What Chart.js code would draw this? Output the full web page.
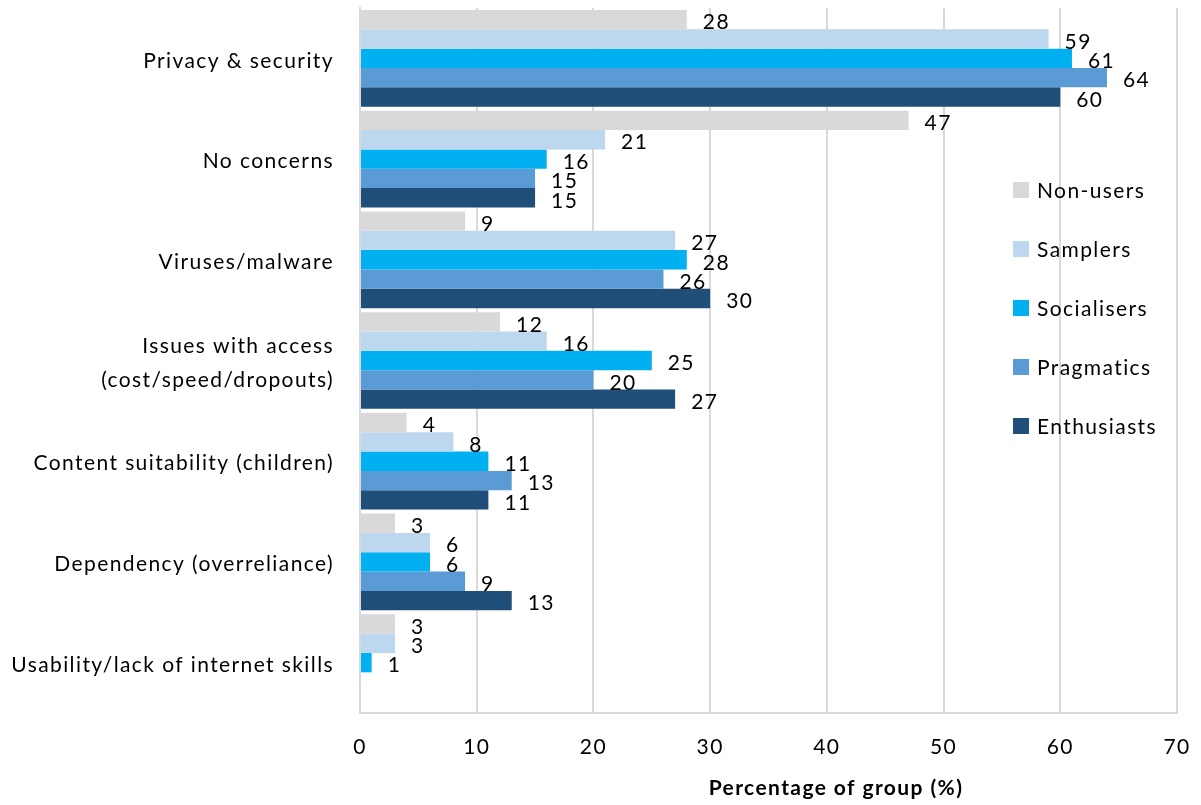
<!DOCTYPE html>
<html>
<head>
<meta charset="utf-8">
<title>Online concerns by user group</title>
<script src="https://cdn.jsdelivr.net/npm/chart.js@4.4.1/dist/chart.umd.min.js"></script>
<style>
  html, body { margin: 0; padding: 0; background: #fff; }
  #wrap { width: 1201px; height: 805px; position: relative; }
</style>
</head>
<body>
<div id="wrap"><canvas id="concernsChart"></canvas></div>
<script>
// concerns (y axis, top to bottom)
const categories = [
  "Privacy & security",
  "No concerns",
  "Viruses/malware",
  ["Issues with access", "(cost/speed/dropouts)"],
  "Content suitability (children)",
  "Dependency (overreliance)",
  "Usability/lack of internet skills"
];

// user groups
const groupNames = ["Non-users", "Samplers", "Socialisers", "Pragmatics", "Enthusiasts"];
const groupColors = ["#d9d9d9", "#bdd7ee", "#00b0f0", "#5b9bd5", "#1f4e79"];

// % of each group naming the concern
const nonUsers    = [28, 47,  9, 12,  4,  3, 3];
const samplers    = [59, 21, 27, 16,  8,  6, 3];
const socialisers = [61, 16, 28, 25, 11,  6, 1];
const pragmatics  = [64, 15, 26, 20, 13,  9, null];
const enthusiasts = [60, 15, 30, 27, 11, 13, null];

const xMin = 0, xMax = 70, xStep = 10;
const axisTitle = "Percentage of group (%)";

const FONT = "Lato, 'Open Sans', sans-serif";
const SPACING = "1.4px";
const seriesValues = [nonUsers, samplers, socialisers, pragmatics, enthusiasts];

// slightly loose tracking for all canvas text
const trackedText = {
  id: "trackedText",
  beforeDraw(chart) {
    chart.ctx.letterSpacing = SPACING;
  }
};

// value printed just past the end of each bar
const barValueLabels = {
  id: "barValueLabels",
  afterDatasetsDraw(chart) {
    const ctx = chart.ctx;
    ctx.save();
    ctx.letterSpacing = SPACING;
    ctx.font = "21px " + FONT;
    ctx.fillStyle = "#000";
    ctx.textAlign = "left";
    ctx.textBaseline = "middle";
    chart.data.datasets.forEach((ds, i) => {
      const meta = chart.getDatasetMeta(i);
      meta.data.forEach((bar, j) => {
        const v = ds.data[j];
        if (v === null || v === undefined) return;
        ctx.fillText(String(v), bar.x + 16, bar.y + 3);
      });
    });
    ctx.restore();
  }
};

// legend sits inside the plot on the right, stacked vertically
const insideLegend = {
  id: "insideLegend",
  afterDraw(chart) {
    const ctx = chart.ctx;
    ctx.save();
    ctx.letterSpacing = SPACING;
    ctx.font = "21px " + FONT;
    ctx.textAlign = "left";
    ctx.textBaseline = "middle";
    chart.data.datasets.forEach((ds, i) => {
      const y = 190 + i * 59;
      ctx.fillStyle = ds.backgroundColor;
      ctx.fillRect(1013, y - 8, 16, 16);
      ctx.fillStyle = "#000";
      ctx.fillText(ds.label, 1037, y + 1);
    });
    ctx.restore();
  }
};

// x axis title, drawn under the tick labels
const xAxisTitle = {
  id: "xAxisTitle",
  afterDraw(chart) {
    const ctx = chart.ctx;
    ctx.save();
    ctx.letterSpacing = SPACING;
    ctx.font = "bold 21px " + FONT;
    ctx.fillStyle = "#000";
    ctx.textAlign = "center";
    ctx.textBaseline = "middle";
    ctx.fillText(axisTitle, 836, 788);
    ctx.restore();
  }
};

const ctx = document.getElementById("concernsChart").getContext("2d");

new Chart(ctx, {
  type: "bar",
  data: {
    labels: categories,
    datasets: groupNames.map((name, i) => ({
      label: name,
      data: seriesValues[i],
      backgroundColor: groupColors[i],
      borderWidth: 0,
      barPercentage: 1.0,
      categoryPercentage: 0.96
    }))
  },
  options: {
    indexAxis: "y",
    responsive: true,
    maintainAspectRatio: false,
    animation: false,
    layout: { padding: { top: 8, right: 24, left: 0, bottom: 0 } },
    scales: {
      x: {
        min: xMin,
        max: xMax,
        afterFit: (scale) => {
          scale.height = 92;
          scale.paddingLeft = 0;
          scale.paddingRight = 0;
        },
        ticks: {
          stepSize: xStep,
          padding: 22,
          color: "#000",
          font: { family: FONT, size: 21 }
        },
        grid: {
          color: "#d9d9d9",
          lineWidth: 2,
          drawTicks: false
        },
        border: { display: true, color: "#d9d9d9", width: 2 }
      },
      y: {
        afterFit: (scale) => {
          scale.width = 360;
          scale.paddingTop = 0;
          scale.paddingBottom = 0;
        },
        ticks: {
          padding: 26,
          labelOffset: 2.5,
          color: "#000",
          font: { family: FONT, size: 21, lineHeight: 1.6 }
        },
        grid: { display: false, drawTicks: false },
        border: { display: true, color: "#d9d9d9", width: 2 }
      }
    },
    plugins: {
      legend: { display: false },
      tooltip: { enabled: false }
    }
  },
  plugins: [trackedText, barValueLabels, insideLegend, xAxisTitle]
});
</script>
</body>
</html>
